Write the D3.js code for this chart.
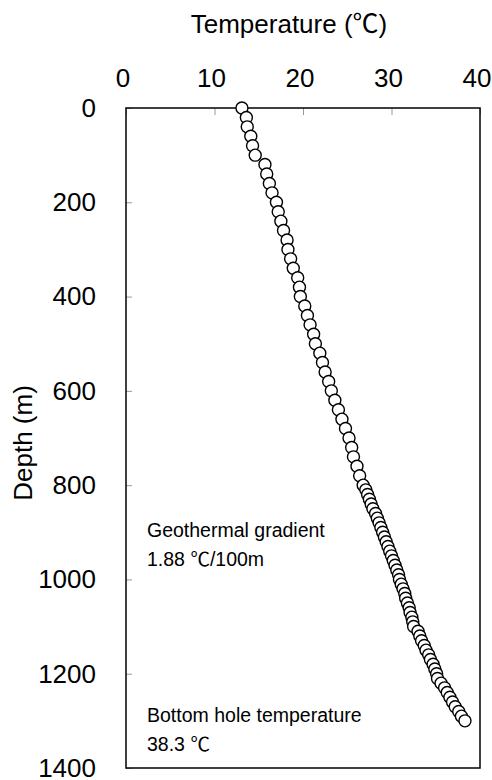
<!DOCTYPE html>
<html>
<head>
<meta charset="utf-8">
<script src="https://cdn.jsdelivr.net/npm/d3@7"></script>
<style>
  body { margin: 0; background: #fff; }
  svg text { font-family: "Liberation Sans", Arial, sans-serif; fill: #000; }
  .deg { font-family: "Noto Sans CJK JP", "Liberation Sans", sans-serif; }
</style>
</head>
<body>
<div id="chart"></div>
<script>
// depth of each reading (m)
const depths = [
  0, 20, 40, 60, 80, 100, 120, 140, 160, 180, 200, 220, 240, 260, 280, 300, 320, 340,
  360, 380, 400, 420, 440, 460, 480, 500, 520, 540, 560, 580, 600, 620, 640, 660, 680,
  700, 720, 740, 760, 780, 800,
  810, 820, 830, 840, 850, 860, 870, 880, 890, 900, 910, 920, 930, 940, 950, 960, 970,
  980, 990, 1000, 1010, 1020, 1030, 1040, 1050, 1060, 1070, 1080, 1090, 1100, 1110,
  1120, 1130, 1140, 1150, 1160, 1170, 1180, 1190, 1200, 1210, 1220, 1230, 1240, 1250,
  1260, 1270, 1280, 1290, 1300
]
// temperature at each depth (C)
const temps = [
  13.1, 13.6, 13.7, 14.1, 14.3, 14.6, 15.7, 15.9, 16.2, 16.5, 17.0, 17.2, 17.5, 17.8, 18.2, 18.3, 18.6, 18.9,
  19.4, 19.6, 19.7, 20.2, 20.5, 20.8, 21.2, 21.4, 21.9, 22.2, 22.5, 22.9, 23.2, 23.6, 24.0, 24.4, 24.8,
  25.2, 25.5, 25.7, 26.1, 26.4, 26.8,
  27.1, 27.3, 27.5, 27.7, 27.9, 28.2, 28.4, 28.6, 28.8, 29.0, 29.2, 29.4, 29.6, 29.8, 30.0, 30.2, 30.4,
  30.6, 30.8, 30.9, 31.1, 31.3, 31.5, 31.6, 31.8, 32.0, 32.1, 32.3, 32.4, 32.5, 33.0,
  33.2, 33.4, 33.7, 33.9, 34.2, 34.4, 34.7, 34.9, 35.1, 35.2, 35.6, 36.0, 36.3, 36.6,
  36.9, 37.2, 37.6, 37.9, 38.3
]
const tempTicks = [0, 10, 20, 30, 40]
const depthTicks = [0, 200, 400, 600, 800, 1000, 1200, 1400]
// [line 1, line 2 before the degree sign, line 2 after it]
const notes = [
  ["Geothermal gradient", "1.88 ", "/100m"],
  ["Bottom hole temperature", "38.3 ", ""]
]

const svgWidth = 492
const svgHeight = 780
var margin = { left: 126, right: 12, top: 108, bottom: 12 }
var width = svgWidth - margin.left - margin.right,
    height = svgHeight - margin.top - margin.bottom

let svg = d3.select("#chart").append("svg")
  .attr("width", svgWidth)
  .attr("height", svgHeight)

let g = svg.append("g")
  .attr("transform", "translate(" + margin.left + ", " + margin.top + ")")

var x = d3.scaleLinear().domain([0, 40]).range([0, width])
var y = d3.scaleLinear().domain([0, 1400]).range([0, height])

// axes: ticks point into the plot, labels outside
g.append("g")
  .attr("class", "x axis")
  .call(d3.axisTop(x).tickValues(tempTicks).tickSize(-7).tickPadding(21))
  .selectAll("text").attr("dx", -3.5)
g.append("g")
  .attr("class", "y axis")
  .call(d3.axisLeft(y).tickValues(depthTicks).tickFormat(d3.format("d")).tickSize(-6).tickPadding(30))

svg.selectAll(".axis .domain").remove()
svg.selectAll(".axis line").attr("stroke", "#999").attr("stroke-width", 1)
svg.selectAll(".axis text").attr("font-size", "26px").attr("fill", "#000")
  .style("font-family", "'Liberation Sans', Arial, sans-serif")

// frame
g.append("rect")
  .attr("x", 0).attr("y", 0)
  .attr("width", width).attr("height", height)
  .attr("fill", "none")
  .attr("stroke", "#111")
  .attr("stroke-width", 1.6)

// points
g.selectAll("circle")
  .data(depths.map((d, i) => ({ depth: d, temp: temps[i] })))
  .enter()
  .append("circle")
  .attr("cx", d => x(d.temp))
  .attr("cy", d => y(d.depth))
  .attr("r", 6)
  .attr("fill", "#fff")
  .attr("stroke", "#000")
  .attr("stroke-width", 1.4)

// labels
let title = svg.append("text")
  .attr("x", margin.left + width / 2 - 14)
  .attr("y", 33)
  .attr("font-size", "26px")
  .attr("text-anchor", "middle")
title.append("tspan").text("Temperature (")
title.append("tspan").attr("class", "deg").text("\u2103")
title.append("tspan").text(")")

svg.append("text")
  .attr("transform", "translate(32, 443) rotate(-90)")
  .attr("font-size", "26px")
  .attr("text-anchor", "middle")
  .text("Depth (m)")

// annotations
var noteY = [537, 722]
notes.forEach((lines, k) => {
  svg.append("text")
    .attr("x", 147)
    .attr("y", noteY[k])
    .attr("font-size", "19.5px")
    .text(lines[0])
  let t2 = svg.append("text")
    .attr("x", 147)
    .attr("y", noteY[k] + 29)
    .attr("font-size", "19.5px")
  t2.append("tspan").text(lines[1])
  t2.append("tspan").attr("class", "deg").text("\u2103")
  t2.append("tspan").text(lines[2])
})
</script>
</body>
</html>
